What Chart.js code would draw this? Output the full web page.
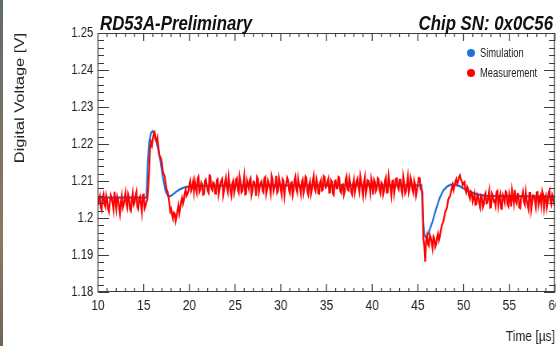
<!DOCTYPE html>
<html><head><meta charset="utf-8">
<script src="https://cdn.jsdelivr.net/npm/chart.js@4.4.1/dist/chart.umd.min.js"></script>
<style>
html,body{margin:0;padding:0;background:#fff;}
#wrap{position:relative;width:556px;height:346px;overflow:hidden;background:#fff;}
#c{position:absolute;left:0;top:0;transform:scaleX(0.8);transform-origin:0 0;}
.ttl{position:absolute;font-family:"Liberation Sans",Arial,sans-serif;font-weight:bold;font-style:italic;font-size:21px;color:#111;white-space:nowrap;line-height:1;}
.lg{position:absolute;font-family:"Liberation Sans",Arial,sans-serif;font-size:12px;color:#222;white-space:nowrap;line-height:1;transform:scaleX(0.78);transform-origin:left center;}
.dot{position:absolute;width:8px;height:8px;border-radius:50%;}
#strip{position:absolute;left:0;top:0;width:3px;height:346px;background:linear-gradient(to bottom,#5f6b6e,#7d7262 40%,#8a7a62 70%,#6f6456);}
</style>
</head><body>
<div id="wrap">
<canvas id="c" width="695" height="346"></canvas>
<div id="strip"></div>
<div class="ttl" style="left:100px;top:12px;transform:scaleX(0.8);transform-origin:left center;">RD53A-Preliminary</div>
<div class="ttl" style="right:3px;top:12px;transform:scaleX(0.8);transform-origin:right center;">Chip SN: 0x0C56</div>
<div class="dot" style="left:467px;top:49px;background:#1e73d8;"></div>
<div class="lg" style="left:480px;top:47px;">Simulation</div>
<div class="dot" style="left:467px;top:69px;background:#ff0000;"></div>
<div class="lg" style="left:480px;top:67px;">Measurement</div>
</div>
<script>
// Measurement samples: "even" samples at 10.0, 10.2, ... 60.0 ; "odd" samples at 10.1, 10.3, ... 59.9
const measStart = 10, measStep = 0.2;
const measBaseline1 = [1.2035,1.2058,1.2021,1.2064,1.2030,1.2049,1.2017,1.2062,1.2040,1.2071,1.2025,1.2052,1.2012,1.2060,1.2036,1.2068,1.2028,1.2055,1.2019,1.2066,1.2041,1.2070,1.2024,1.2057,1.2015,1.2063,1.2033,1.2050];
const measEvent1 = [1.2130,1.2205,1.2215,1.2232,1.2208,1.2195,1.2165,1.2148,1.2118,1.2095,1.2072,1.2040,1.2025,1.1998,1.2012,1.2004,1.2035,1.2028,1.2055,1.2049,1.2078,1.2066,1.2092,1.2074,1.2098];
const measPlateau = [
1.2099,1.2069,1.2112,1.2078,1.2091,1.2065,1.2104,1.2074,1.2115,1.2081,1.2096,1.2067,1.2102,1.2063,1.2094,1.2106,1.2076,1.2110,1.2071,1.2089,1.2060,1.2101,1.2079,1.2108,1.2068,
1.2097,1.2073,1.2113,1.2066,1.2092,1.2103,1.2062,1.2098,1.2084,1.2111,1.2070,1.2095,1.2075,1.2107,1.2064,1.2100,1.2080,1.2114,1.2072,1.2088,1.2068,1.2109,1.2077,1.2105,1.2061,
1.2093,1.2102,1.2067,1.2096,1.2074,1.2112,1.2069,1.2090,1.2065,1.2104,1.2082,1.2108,1.2063,1.2099,1.2078,1.2115,1.2073,1.2094,1.2066,1.2103,1.2076,1.2110,1.2085,1.2106,1.2070,
1.2097,1.2062,1.2101,1.2081,1.2109,1.2068,1.2091,1.2072,1.2113,1.2075,1.2095,1.2064,1.2105,1.2084,1.2107,1.2071,1.2098,1.2060,1.2111,1.2079,1.2100,1.2067,1.2092,1.2104,1.2073,
1.2108,1.2077,1.2096,1.2063,1.2102,1.2069,1.2114,1.2080,1.2099,1.2065,1.2106,1.2083,1.2103,1.2074,1.2112,1.2066,1.2090,1.2070,1.2110,1.2078,1.2101,1.2061,1.2093,1.2107,1.2076];
const measEvent2 = [1.1945,1.1882,1.1952,1.1925,1.1948,1.1918,1.1945,1.1930,1.1958,1.1950,1.1978,1.1992,1.2018,1.2030,1.2055,1.2068,1.2090,1.2086,1.2105,1.2098,1.2115,1.2100,1.2094,1.2075,1.2084,1.2060,1.2072,1.2045,1.2066,1.2038,1.2060,1.2030,1.2058];
const measBaseline2 = [1.2035,1.2068,1.2042,1.2074,1.2029,1.2060,1.2047,1.2070,1.2033,1.2063,1.2025,1.2057,1.2072,1.2038,1.2066,1.2031,1.2055,1.2076,1.2040,1.2064,1.2027,1.2059,1.2044,1.2071,1.2036,1.2067,1.2023,1.2061,1.2048,1.2069,1.2034,1.2058,1.2073,1.2030,1.2062,1.2041,1.2075,1.2037,1.2054,1.2032];

const measBaseline1Odd = [1.2048,1.2029,1.2055,1.2038,1.2061,1.2026,1.2044,1.2053,1.2022,1.2047,1.2059,1.2031,1.2043,1.2027,1.2051,1.2039,1.2064,1.2024,1.2046,1.2035,1.2058,1.2030,1.2049,1.2037,1.2062,1.2026,1.2044,1.2085];
const measEvent1Odd = [1.2188,1.2196,1.2228,1.2212,1.2218,1.2172,1.2160,1.2125,1.2112,1.2078,1.2060,1.2018,1.2010,1.2015,1.1992,1.2022,1.2012,1.2046,1.2038,1.2068,1.2060,1.2072,1.2101,1.2083,1.2070];
const measPlateauOdd = [
1.2082,1.2107,1.2071,1.2096,1.2063,1.2100,1.2089,1.2068,1.2113,1.2076,1.2093,1.2066,1.2105,1.2079,1.2101,1.2061,1.2098,1.2083,1.2110,1.2072,1.2094,1.2067,1.2103,1.2075,1.2112,
1.2069,1.2091,1.2064,1.2102,1.2080,1.2108,1.2074,1.2097,1.2060,1.2106,1.2085,1.2099,1.2070,1.2111,1.2077,1.2092,1.2065,1.2104,1.2081,1.2114,1.2073,1.2095,1.2062,1.2100,1.2084,
1.2109,1.2075,1.2094,1.2061,1.2103,1.2078,1.2107,1.2083,1.2098,1.2068,1.2112,1.2072,1.2090,1.2064,1.2101,1.2080,1.2105,1.2067,1.2096,1.2074,1.2113,1.2082,1.2097,1.2069,1.2102,
1.2066,1.2099,1.2081,1.2111,1.2073,1.2089,1.2062,1.2104,1.2078,1.2108,1.2071,1.2093,1.2068,1.2100,1.2084,1.2113,1.2076,1.2095,1.2065,1.2102,1.2086,1.2106,1.2063,1.2098,1.2079,
1.2105,1.2067,1.2092,1.2075,1.2110,1.2070,1.2096,1.2061,1.2101,1.2083,1.2107,1.2077,1.2103,1.2064,1.2094,1.2072,1.2111,1.2081,1.2099,1.2068,1.2090,1.2074,1.2108,1.2078,1.2070];
const measEvent2Odd = [1.1925,1.1938,1.1930,1.1955,1.1935,1.1950,1.1922,1.1948,1.1940,1.1965,1.1985,1.2005,1.2022,1.2048,1.2058,1.2080,1.2075,1.2098,1.2092,1.2110,1.2104,1.2088,1.2097,1.2068,1.2078,1.2052,1.2068,1.2055,1.2036,1.2064,1.2042,1.2061,1.2028];
const measBaseline2Odd = [1.2061,1.2040,1.2057,1.2028,1.2066,1.2045,1.2034,1.2073,1.2052,1.2026,1.2063,1.2043,1.2069,1.2032,1.2055,1.2074,1.2038,1.2047,1.2065,1.2029,1.2058,1.2071,1.2036,1.2050,1.2024,1.2067,1.2044,1.2060,1.2031,1.2070,1.2049,1.2035,1.2064,1.2056,1.2027,1.2068,1.2046,1.2062,1.2039];

// Simulation (smooth curve)
const simTime  = [10,15.3,15.45,15.6,15.8,16.0,16.2,16.5,16.8,17.1,17.4,17.7,18.0,18.5,19.0,19.5,20.5,25,45.4,45.55,45.7,45.9,46.2,46.6,47.0,47.4,47.8,48.2,48.6,49.0,49.5,50.0,50.5,51.0,51.5,52.5,60];
const simValue = [1.2055,1.2055,1.2150,1.2205,1.2230,1.2235,1.2225,1.2195,1.2158,1.2110,1.2072,1.2058,1.2060,1.2070,1.2078,1.2083,1.2087,1.2088,1.2088,1.2000,1.1955,1.1946,1.1962,1.1990,1.2025,1.2055,1.2075,1.2085,1.2090,1.2090,1.2087,1.2080,1.2073,1.2068,1.2064,1.2060,1.2058];

const xMajorTicks = [10,15,20,25,30,35,40,45,50,55,60];
const yMajorTicks = [1.18,1.19,1.2,1.21,1.22,1.23,1.24,1.25];

const measEven = [].concat(measBaseline1, measEvent1, measPlateau, measEvent2, measBaseline2);
const measOdd = [].concat(measBaseline1Odd, measEvent1Odd, measPlateauOdd, measEvent2Odd, measBaseline2Odd);
const measData = [];
measEven.forEach((v,i)=>{
  measData.push({x:+(measStart + i*measStep).toFixed(2), y:v});
  if (i < measOdd.length) measData.push({x:+(measStart + measStep/2 + i*measStep).toFixed(2), y:measOdd[i]});
});
const simData = simTime.map((t,i)=>({x:t, y:simValue[i]}));

const isMajorX = v => xMajorTicks.some(m=>Math.abs(m-v)<1e-6);
const isMajorY = v => yMajorTicks.some(m=>Math.abs(m-v)<1e-6);

// canvas is displayed squeezed horizontally by 0.8 (like the original picture)
const SX = 0.8;

const frameTicks = {
  id:'frameTicks',
  afterDatasetsDraw(chart){
    const {ctx, chartArea:a, scales:{x,y}} = chart;
    ctx.save();
    ctx.strokeStyle='#3c3c3c';
    ctx.lineWidth=1/SX;
    ctx.beginPath();
    x.ticks.forEach(t=>{
      const px = x.getPixelForValue(t.value);
      const L = isMajorX(t.value) ? 8 : 4;
      ctx.moveTo(px,a.bottom); ctx.lineTo(px,a.bottom-L);
      ctx.moveTo(px,a.top); ctx.lineTo(px,a.top+L);
    });
    ctx.moveTo(a.left,a.top); ctx.lineTo(a.left,a.bottom);
    ctx.moveTo(a.right-0.6,a.top); ctx.lineTo(a.right-0.6,a.bottom);
    ctx.stroke();
    ctx.lineWidth=1;
    ctx.beginPath();
    y.ticks.forEach(t=>{
      const py = Math.round(y.getPixelForValue(t.value))+0.5;
      const L = (isMajorY(t.value) ? 11 : 6)/SX;
      ctx.moveTo(a.left,py); ctx.lineTo(a.left+L,py);
      ctx.moveTo(a.right,py); ctx.lineTo(a.right-L,py);
    });
    ctx.moveTo(a.left,Math.round(a.top)+0.5); ctx.lineTo(a.right,Math.round(a.top)+0.5);
    ctx.moveTo(a.left,Math.round(a.bottom)-0.5); ctx.lineTo(a.right,Math.round(a.bottom)-0.5);
    ctx.stroke();
    ctx.restore();
  }
};

const tickFamily = '"Liberation Sans",Arial,sans-serif';

new Chart(document.getElementById('c'), {
  type:'line',
  data:{datasets:[
    {label:'Measurement', data:measData, borderColor:'#ff0000', borderWidth:2.2, pointRadius:0, tension:0, order:0},
    {label:'Simulation', data:simData, borderColor:'#1e73d8', borderWidth:2.2, pointRadius:0, tension:0, order:1}
  ]},
  options:{
    responsive:false, animation:false, events:[],
    layout:{padding:{left:0,top:33,right:1.25,bottom:0}},
    plugins:{legend:{display:false}, tooltip:{enabled:false}},
    scales:{
      x:{type:'linear', min:10, max:60,
        grid:{display:false, drawTicks:false}, border:{display:false},
        ticks:{stepSize:1, autoSkip:false, maxRotation:0, minRotation:0, padding:5, color:'#222',
          font:{family:tickFamily, size:15},
          callback:v=>isMajorX(v)?String(Math.round(v)):''},
        title:{display:true, text:'Time [µs]', align:'end', color:'#222',
          font:{family:tickFamily, size:15}, padding:{top:0,bottom:0}},
        afterFit:s=>{s.height=54; s.paddingLeft=0; s.paddingRight=0;}
      },
      y:{type:'linear', min:1.18, max:1.25,
        grid:{display:false, drawTicks:false}, border:{display:false},
        ticks:{stepSize:0.002, autoSkip:false, padding:6, color:'#222',
          font:{family:tickFamily, size:14},
          callback:v=>isMajorY(v)?String(+v.toFixed(2)):''},
        title:{display:true, text:'Digital Voltage [V]', align:'end', color:'#222',
          font:{family:tickFamily, size:16.5}, padding:{top:15.5,bottom:0}},
        afterFit:s=>{s.width=122.5; s.paddingTop=0; s.paddingBottom=0;}
      }
    }
  },
  plugins:[frameTicks]
});
</script>
</body></html>
